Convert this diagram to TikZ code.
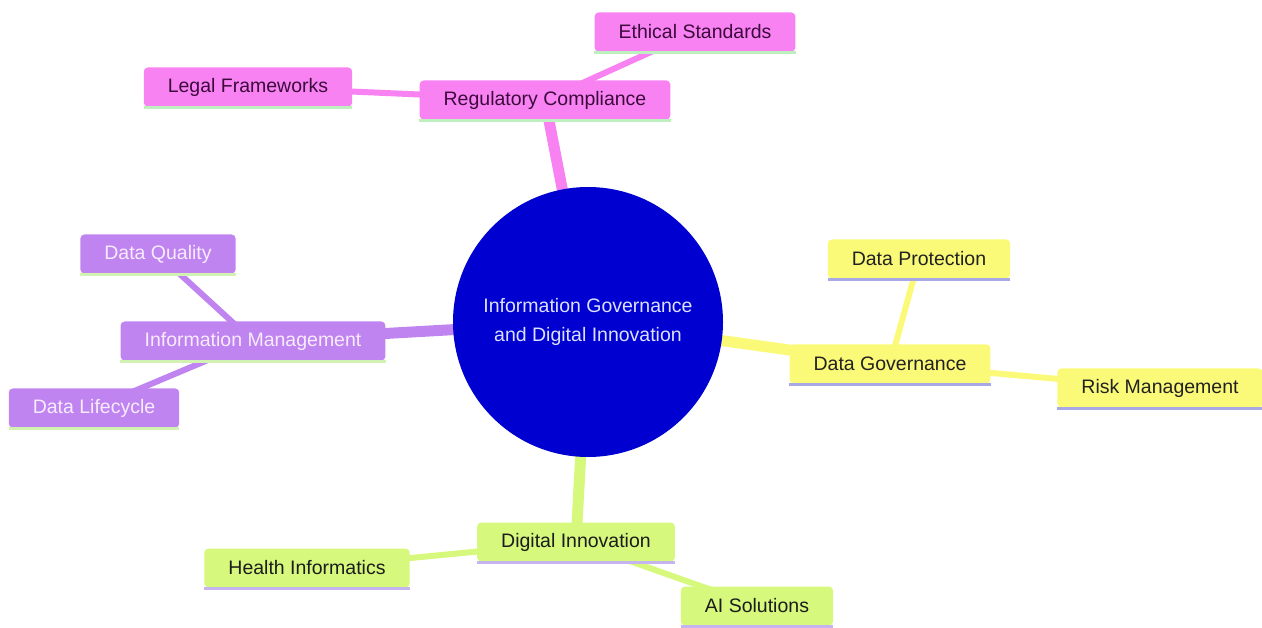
\documentclass[tikz,border=0pt]{standalone}
\usepackage{fontspec}
\setmainfont{Liberation Sans}
\pgfdeclarelayer{background}
\pgfsetlayers{background,main}
\definecolor{pinkc}{HTML}{F882F2}
\definecolor{pinktx}{HTML}{3C0A3C}
\definecolor{pinkacc}{HTML}{BDF0BE}
\definecolor{purc}{HTML}{C084F0}
\definecolor{purtx}{HTML}{F7ECFF}
\definecolor{puracc}{HTML}{D2F2B4}
\definecolor{yelc}{HTML}{FAFA78}
\definecolor{yeltx}{HTML}{222222}
\definecolor{yelacc}{HTML}{A8A8E6}
\definecolor{limc}{HTML}{D6F87C}
\definecolor{limtx}{HTML}{1C1C1C}
\definecolor{limacc}{HTML}{C6B4F0}
\definecolor{rootc}{HTML}{0000D0}
\definecolor{roottx}{HTML}{DDE0FF}
\tikzset{
  x=1pt, y=-1pt,
  every node/.style={font=\fontsize{19.5}{29}\selectfont},
  box/.style={rectangle, rounded corners=4pt, minimum height=39pt, inner xsep=24pt, inner ysep=0pt, draw=none},
  pinkbox/.style={box, fill=pinkc, text=pinktx,
    append after command={([yshift=-1pt]\tikzlastnode.south west) edge[draw=pinkacc, line width=3pt] ([yshift=-1pt]\tikzlastnode.south east)}},
  purbox/.style={box, fill=purc, text=purtx,
    append after command={([yshift=-1pt]\tikzlastnode.south west) edge[draw=puracc, line width=3pt] ([yshift=-1pt]\tikzlastnode.south east)}},
  yelbox/.style={box, fill=yelc, text=yeltx,
    append after command={([yshift=-1pt]\tikzlastnode.south west) edge[draw=yelacc, line width=3pt] ([yshift=-1pt]\tikzlastnode.south east)}},
  limbox/.style={box, fill=limc, text=limtx,
    append after command={([yshift=-1pt]\tikzlastnode.south west) edge[draw=limacc, line width=3pt] ([yshift=-1pt]\tikzlastnode.south east)}},
  rootnode/.style={circle, fill=rootc, text=roottx, minimum size=270pt, align=center, inner sep=0pt},
  main/.style={line width=11pt},
  sub/.style={line width=6pt},
}
\begin{document}
\begin{tikzpicture}
\useasboundingbox (0,0) rectangle (1262,628);
\node[rootnode] (root) at (588,322) {Information Governance\\and Digital Innovation};
\node[pinkbox] (rc) at (545,100) {Regulatory Compliance};
\node[pinkbox] (es) at (695,32) {Ethical Standards};
\node[pinkbox] (lf) at (248,87) {Legal Frameworks};
\node[yelbox] (dg) at (890,364) {Data Governance};
\node[yelbox] (dp) at (919,259) {Data Protection};
\node[yelbox] (rm) at (1160,388) {Risk Management};
\node[purbox] (im) at (253,341) {Information Management};
\node[purbox] (dq) at (158,254) {Data Quality};
\node[purbox] (dl) at (94,408) {Data Lifecycle};
\node[limbox] (di) at (576,542) {Digital Innovation};
\node[limbox] (hi) at (307,568) {Health Informatics};
\node[limbox] (ai) at (757,606) {AI Solutions};
\begin{pgfonlayer}{background}
\draw[main, pinkc] (root.center) -- (rc.center);
\draw[main, yelc] (root.center) -- (dg.center);
\draw[main, purc] (root.center) -- (im.center);
\draw[main, limc] (root.center) -- (di.center);
\draw[sub, pinkc] (rc.center) -- (es.center);
\draw[sub, pinkc] (rc.center) -- (lf.center);
\draw[sub, yelc] (dg.center) -- (dp.center);
\draw[sub, yelc] (dg.center) -- (rm.center);
\draw[sub, purc] (im.center) -- (dq.center);
\draw[sub, purc] (im.center) -- (dl.center);
\draw[sub, limc] (di.center) -- (hi.center);
\draw[sub, limc] (di.center) -- (ai.center);
\end{pgfonlayer}
\end{tikzpicture}
\end{document}
